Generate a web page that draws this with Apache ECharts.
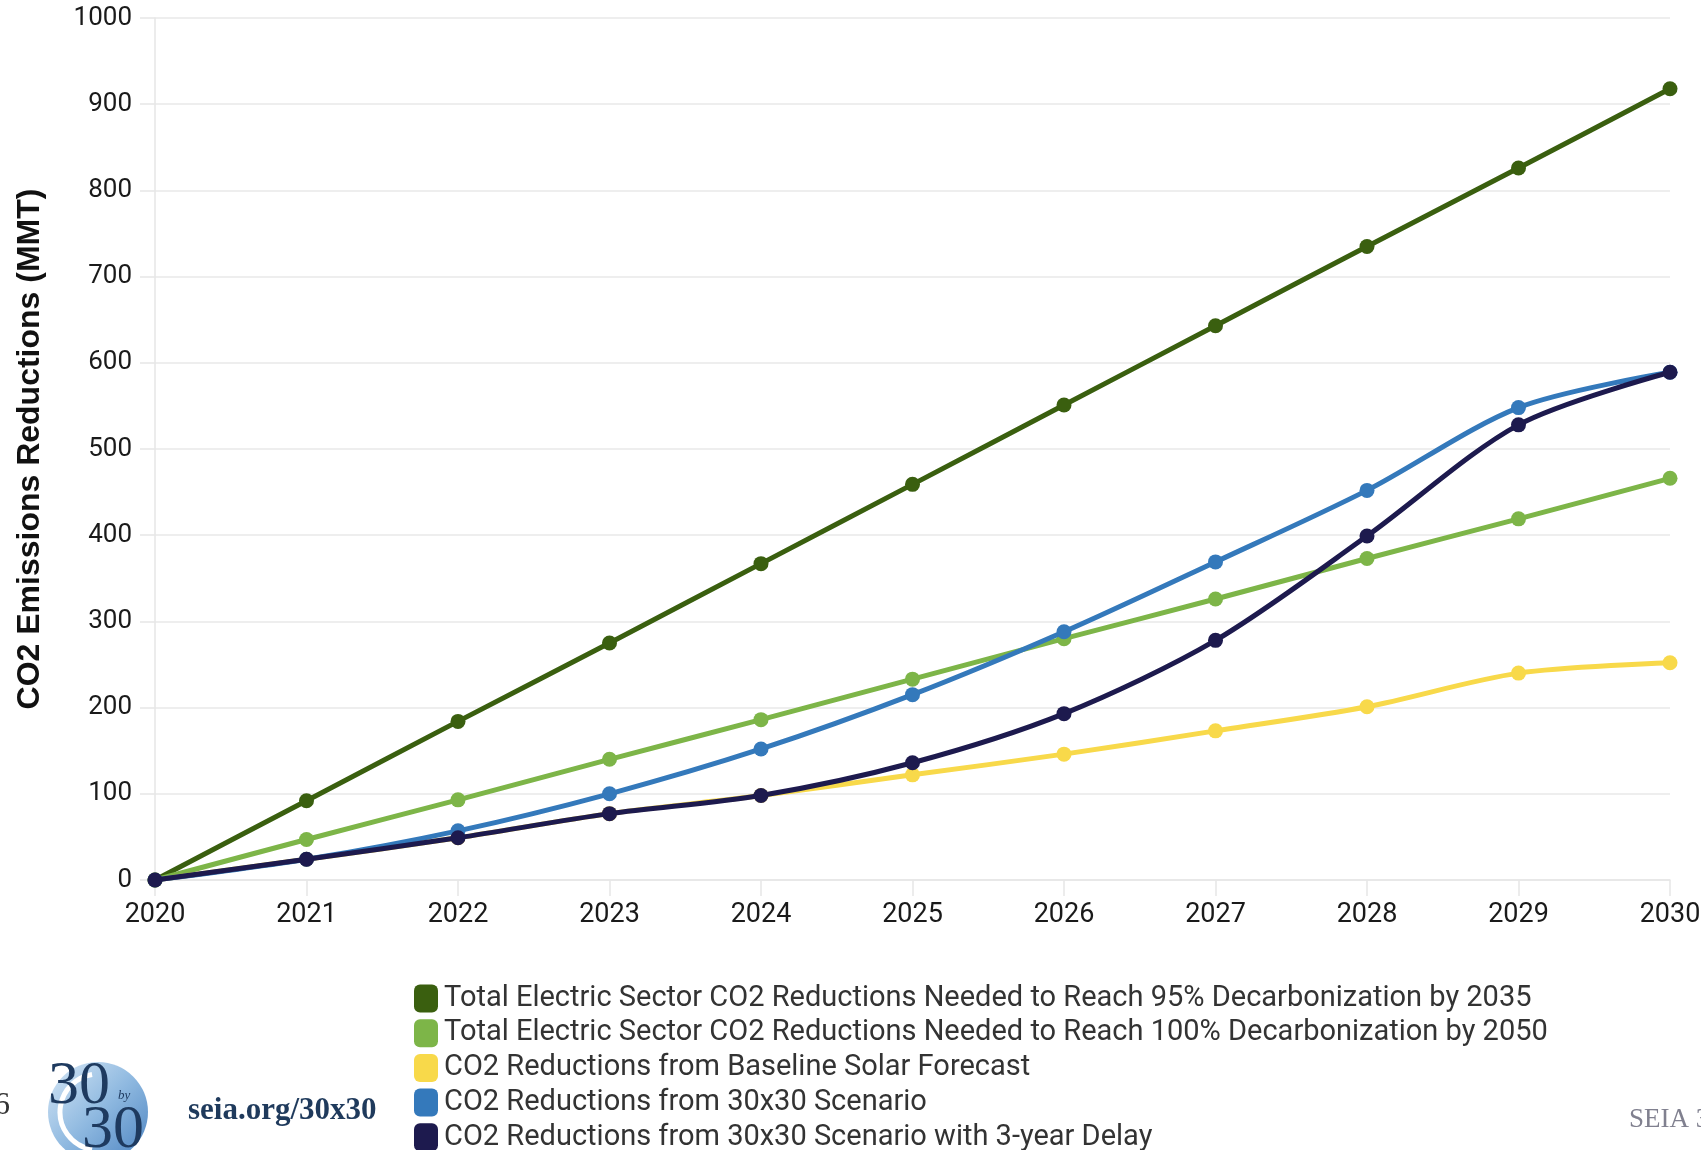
<!DOCTYPE html>
<html>
<head>
<meta charset="utf-8">
<script src="https://cdn.jsdelivr.net/npm/echarts@6/dist/echarts.min.js"></script>
<style>
  html, body { margin: 0; padding: 0; background: #ffffff; }
  #chart { width: 1701px; height: 1150px; }
</style>
</head>
<body>
<div id="chart"></div>
<script>
// Years on the horizontal axis
const years = ['2020', '2021', '2022', '2023', '2024', '2025', '2026', '2027', '2028', '2029', '2030'];

// CO2 emissions reductions (MMT) per scenario
const needed95by2035 = [0, 92, 184, 275, 367, 459, 551, 643, 735, 826, 918];
const needed100by2050 = [0, 47, 93, 140, 186, 233, 280, 326, 373, 419, 466];
const baselineSolar = [0, 24, 49, 77, 98, 122, 146, 173, 201, 240, 252];
const scenario30x30 = [0, 24, 57, 100, 152, 215, 288, 369, 452, 548, 589];
const scenario30x30Delay = [0, 24, 49, 77, 98, 136, 193, 278, 399, 528, 589];

const seriesNames = [
  'Total Electric Sector CO2 Reductions Needed to Reach 95% Decarbonization by 2035',
  'Total Electric Sector CO2 Reductions Needed to Reach 100% Decarbonization by 2050',
  'CO2 Reductions from Baseline Solar Forecast',
  'CO2 Reductions from 30x30 Scenario',
  'CO2 Reductions from 30x30 Scenario with 3-year Delay'
];
const seriesData = [needed95by2035, needed100by2050, baselineSolar, scenario30x30, scenario30x30Delay];
const seriesColors = ['#3a5f0f', '#7db548', '#f8d94a', '#3479bb', '#1d1a4e'];

const chart = echarts.init(document.getElementById('chart'), null, { renderer: 'canvas' });

const series = seriesNames.map((name, i) => ({
  name: name,
  type: 'line',
  data: seriesData[i],
  smooth: 0.3,
  symbol: 'circle',
  symbolSize: 15,
  showSymbol: true,
  lineStyle: { width: 5, color: seriesColors[i] },
  itemStyle: { color: seriesColors[i] },
  z: 2 + i
}));

chart.setOption({
  animation: false,
  backgroundColor: '#ffffff',
  textStyle: { fontFamily: 'Roboto' },
  grid: { left: 155, right: 31, top: 18, bottom: 270, containLabel: false, outerBoundsMode: 'none' },
  xAxis: {
    type: 'category',
    data: years,
    boundaryGap: false,
    axisLine: { show: true, lineStyle: { color: '#e6e6e6', width: 1.5 } },
    axisTick: { show: true, length: 16, lineStyle: { color: '#e6e6e6', width: 1.5 } },
    axisLabel: { color: '#1a1a1a', fontSize: 27, fontFamily: 'Roboto', margin: 22 },
    splitLine: { show: false }
  },
  yAxis: {
    type: 'value',
    min: 0,
    max: 1000,
    interval: 100,
    name: 'CO2 Emissions Reductions (MMT)',
    nameLocation: 'middle',
    nameRotate: 90,
    nameGap: 109,
    nameTextStyle: { color: '#111111', fontSize: 32, fontWeight: 'bold', fontFamily: 'Liberation Sans' },
    axisLine: { show: true, lineStyle: { color: '#e6e6e6', width: 1.5 } },
    axisTick: { show: true, length: 15, lineStyle: { color: '#e6e6e6', width: 1.5 } },
    axisLabel: {
      color: '#1a1a1a', fontSize: 26, fontFamily: 'Roboto', margin: 23,
      formatter: (v) => String(v)
    },
    splitLine: { show: true, lineStyle: { color: '#e9e9e9', width: 1.5 } }
  },
  legend: {
    orient: 'vertical',
    left: 414,
    top: 984,
    height: 175,
    padding: 0,
    itemWidth: 24,
    itemHeight: 28,
    itemGap: 5.7,
    icon: 'roundRect',
    selectedMode: false,
    data: seriesNames,
    textStyle: { color: '#333333', fontSize: 29, fontFamily: 'Roboto', padding: [0, 0, 0, 1] }
  },
  graphic: [
    // page number, partly off the left edge
    { type: 'text', left: -6, top: 1090, style: { text: '6', font: '32px "Liberation Serif"', fill: '#333333' } },
    // 30 by 30 badge
    {
      type: 'circle', shape: { cx: 98, cy: 1112, r: 50 },
      style: {
        fill: new echarts.graphic.LinearGradient(0, 0, 1, 1, [
          { offset: 0, color: '#d6e7f6' },
          { offset: 0.5, color: '#8fb9e0' },
          { offset: 1, color: '#4a82c0' }
        ])
      }
    },
    { type: 'arc', shape: { cx: 98, cy: 1112, r: 38, startAngle: Math.PI * 0.55, endAngle: Math.PI * 1.45 }, style: { stroke: '#ffffff', lineWidth: 5, fill: null } },
    { type: 'text', left: 48, top: 1056, style: { text: '30', font: '62px "Liberation Serif"', fill: '#1e3a5f' } },
    { type: 'text', left: 118, top: 1089, style: { text: 'by', font: 'italic 13px "Liberation Serif"', fill: '#1e3a5f' } },
    { type: 'text', left: 82, top: 1100, style: { text: '30', font: '62px "Liberation Serif"', fill: '#1e3a5f' } },
    // site address
    { type: 'text', left: 188, top: 1095, style: { text: 'seia.org/30x30', font: 'bold 31px "Liberation Serif"', fill: '#1f3a5c' } },
    // footer label, partly off the right edge
    { type: 'text', left: 1629, top: 1106, style: { text: 'SEIA 30x30', font: '27px "Liberation Serif"', fill: '#80808f' } }
  ],
  series: series
});
</script>
</body>
</html>
